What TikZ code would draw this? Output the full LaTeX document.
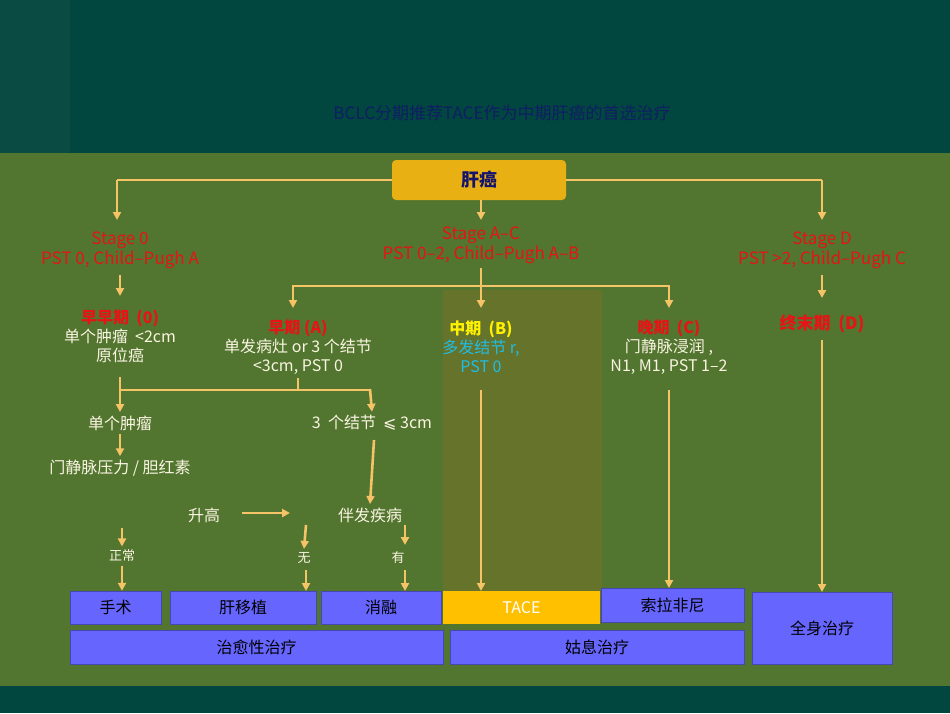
\documentclass[tikz,border=0pt]{standalone}
\usepackage{fontspec}
\setmainfont{Noto Sans CJK SC}
\newfontfamily\symfont{DejaVu Sans}
\usetikzlibrary{arrows.meta}
\definecolor{deep}{RGB}{1,70,63}
\definecolor{strip}{RGB}{10,76,68}
\definecolor{panel}{RGB}{82,117,48}
\definecolor{column}{RGB}{102,115,42}
\definecolor{flow}{RGB}{245,196,102}
\definecolor{cream}{RGB}{250,245,225}
\definecolor{stage}{RGB}{230,20,20}
\definecolor{boxblue}{RGB}{102,102,255}
\definecolor{gold}{RGB}{232,176,18}
\definecolor{tacegold}{RGB}{255,192,0}
\definecolor{navy}{RGB}{20,20,110}
\definecolor{aqua}{RGB}{30,190,230}
\tikzset{
  arr/.style={-{Triangle[length=8pt,width=8pt]},line width=2.6pt,draw=flow},
  ln/.style={line width=2.6pt,draw=flow},
  red/.style={text=stage,font=\fontsize{17}{20}\selectfont},
  txt/.style={text=cream,font=\fontsize{16}{18}\selectfont},
  sub/.style={align=center,inner sep=1pt,font=\fontsize{16}{19}\selectfont},
  small/.style={text=cream,font=\fontsize{13}{15}\selectfont},
  treat/.style={fill=boxblue,draw=boxblue!70!black,inner sep=0pt,text=black,font=\fontsize{16}{18}\selectfont},
}
\begin{document}
\begin{tikzpicture}[x=1pt,y=-1pt]
    % background
    \fill[deep] (0,0) rectangle (950,713);
    \fill[strip] (0,0) rectangle (70,153);
    \fill[panel] (0,153) rectangle (950,686);
    \fill[column] (443,290) rectangle (602,596);
    \useasboundingbox (0,0) rectangle (950,713);
    \node[text=navy!80!deep,font=\fontsize{17}{18}\selectfont] (title) at (502,113) {BCLC分期推荐TACE作为中期肝癌的首选治疗};

    % top box
    \node[fill=gold,rounded corners=4pt,minimum width=174pt,minimum height=40pt,text=navy,font=\fontsize{18}{20}\selectfont\bfseries] (hcc) at (479,180) {肝癌};

    % stages
    \node[red,align=center] (s0) at (120,250) {Stage 0\\PST 0, Child–Pugh A};
    \node[red,align=center] (sac) at (481,245) {Stage A–C\\PST 0–2, Child–Pugh A–B};
    \node[red,align=center] (sd) at (822,250) {Stage D\\PST >2, Child–Pugh C};
    \coordinate (l0) at (117,180);
    \coordinate (r0) at (822,180);
    \coordinate (c0) at (481,200);
    \draw[ln] (hcc.west) -- (l0);
    \draw[arr] (l0) -- (117,220);
    \draw[ln] (hcc.east) -- (r0);
    \draw[arr] (r0) -- (822,220);
    \draw[arr] (c0) -- (481,220);

    % sub stages
    \node[sub] (e0) at (120,336) {\textcolor{stage}{\bfseries 早早期\ \ (0)}\\\color{cream}单个肿瘤\ \ <2cm\\\color{cream}原位癌};
    \node[sub] (ea) at (298,347) {\textcolor{stage}{\bfseries 早期 (A)}\\\color{cream}单发病灶 or 3\ 个结节\\\color{cream}<3cm, PST 0};
    \node[sub] (mb) at (481,347) {\textcolor{yellow}{\bfseries 中期\ \ (B)}\\\color{aqua}多发结节 r,\\\color{aqua}PST 0};
    \node[sub] (lc) at (669,347) {\textcolor{stage}{\bfseries 晚期\ \ (C)}\\\color{cream}门静脉浸润 ,\\\color{cream}N1, M1, PST 1–2};
    \node[text=stage,font=\fontsize{17}{18}\selectfont\bfseries] (td) at (822,324) {终末期\ \ (D)};
    \draw[arr] (120,275) -- (120,296);
    \draw[arr] (822,275) -- (822,298);
    \coordinate (mid) at (481,286);
    \draw[ln] (481,268) -- (mid);
    \draw[ln] (293,286) -- (669,286);
    \draw[arr] (293,285) -- (293,308);
    \draw[arr] (mid) -- (481,308);
    \draw[arr] (669,285) -- (669,308);

    % early branch
    \node[txt] (single) at (120,423) {单个肿瘤};
    \node[txt] (three) at (372,423) {3\ \ 个结节\ \ {\symfont ⩽} 3cm};
    \node[txt] (portal) at (120,468) {门静脉压力 / 胆红素};
    \node[txt] (high) at (204,515) {升高};
    \node[txt] (comor) at (370,515) {伴发疾病};
    \node[small] (norm) at (122,556) {正常};
    \node[small] (no) at (304,558) {无};
    \node[small] (yes) at (398,558) {有};
    \coordinate (j) at (298,390);
    \draw[ln] (120,377) -- (120,390) -- (370,390);
    \draw[ln] (298,378) -- (j);
    \draw[arr] (120,389) -- (single.north);
    \draw[arr] (370,389) -- (three.north);
    \draw[arr] (single.south) -- (portal.north);
    \draw[arr] (374,440) -- (comor.north);
    \draw[arr] (242,513) -- (290,513);

    % treatments
    \node[treat,minimum width=91pt,minimum height=33pt] (surg) at (115.5,607.5) {手术};
    \node[treat,minimum width=146pt,minimum height=33pt] (ltx) at (243,607.5) {肝移植};
    \node[treat,minimum width=120pt,minimum height=33pt] (abl) at (381,607.5) {消融};
    \node[fill=tacegold,minimum width=157pt,minimum height=33pt,inner sep=0pt,text=white,font=\fontsize{16}{18}\selectfont] (tace) at (521.5,607.5) {TACE};
    \node[treat,minimum width=143pt,minimum height=34pt] (sora) at (672.5,605) {索拉非尼};
    \node[treat,minimum width=140pt,minimum height=72pt] (sys) at (822,628) {全身治疗};
    \node[treat,minimum width=373pt,minimum height=34pt] (cur) at (256.5,647) {治愈性治疗};
    \node[treat,minimum width=294pt,minimum height=34pt] (pal) at (597,647) {姑息治疗};
    \draw[arr] (122,528) -- (norm.north);
    \draw[arr] (norm.south) -- (surg.north -| norm);
    \draw[arr] (306,525) -- (no.north);
    \draw[arr] (306,570) -- (306,591);
    \draw[arr] (405,525) -- (405,545);
    \draw[arr] (405,570) -- (405,591);
    \draw[arr] (481,390) -- (481,591);
    \draw[arr] (669,390) -- (669,588);
    \draw[arr] (822,340) -- (822,592);
\end{tikzpicture}
\end{document}
